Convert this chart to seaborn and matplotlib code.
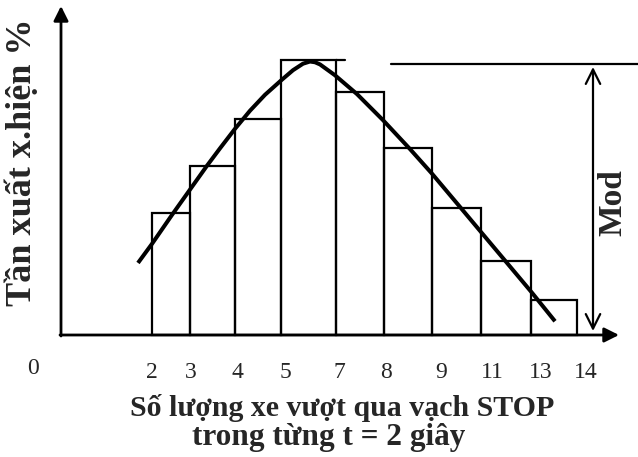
import matplotlib
matplotlib.use("Agg")
import matplotlib.pyplot as plt
import seaborn as sns

# Class boundaries along the horizontal axis and their printed values
bin_edges = [152, 190, 235, 281, 336, 384, 432, 481, 531, 577]
edge_labels = ["2", "3", "4", "5", "7", "8", "9", "11", "13", "14"]
label_shift = [0, 1, 2, 4, 3, 2, 9, 11, 10, 9]
# Relative frequency of each class (%)
freq_pct = [8.4, 11.7, 14.9, 19.0, 16.8, 12.9, 8.8, 5.1, 2.4]

# Hand-drawn smooth frequency curve
curve_x = [138, 152, 172, 190, 207, 220, 235, 250, 265, 282, 293, 303, 310, 315,
           320, 335, 357, 383, 410, 432, 460, 480, 507, 532, 555]
curve_y = [4.98, 6.3, 8.3, 10.05, 11.7, 12.9, 14.25, 15.5, 16.6, 17.65, 18.3, 18.75, 18.9, 18.85,
           18.7, 17.95, 16.65, 14.85, 12.85, 11.15, 8.85, 7.2, 4.98, 2.92, 0.95]

W, H = 638, 457
BASE_ROW = 335          # pixel row of the horizontal axis
PX_PER_PCT = 14.47      # vertical scale


def row(r):
    """Convert a pixel row to the vertical data coordinate."""
    return (BASE_ROW - r) / PX_PER_PCT


sns.set_style("white")
plt.rcParams["font.family"] = ["Liberation Serif", "DejaVu Serif"]

fig = plt.figure(figsize=(W / 100, H / 100), dpi=100)
ax = fig.add_axes([0, 0, 1, 1])

centers = [(a + b) / 2 for a, b in zip(bin_edges[:-1], bin_edges[1:])]
sns.histplot(x=centers, weights=freq_pct, bins=bin_edges, fill=False,
             color="black", linewidth=1.6, ax=ax)

# extended top edge of the modal class
ax.plot([bin_edges[4], bin_edges[4] + 9], [freq_pct[3]] * 2, color="black", lw=1.6)

# frequency curve
sns.lineplot(x=curve_x, y=curve_y, sort=False, color="black", lw=2.9, ax=ax,
             solid_capstyle="butt", solid_joinstyle="round")

# coordinate axes with arrow heads
ax.annotate("", xy=(61, row(6)), xytext=(61, row(BASE_ROW + 1)),
            arrowprops=dict(arrowstyle="-|>", lw=2, color="black",
                            mutation_scale=22, shrinkA=0, shrinkB=0))
ax.annotate("", xy=(619, 0), xytext=(60, 0),
            arrowprops=dict(arrowstyle="-|>", lw=2, color="black",
                            mutation_scale=22, shrinkA=0, shrinkB=0))

# mode level and its span
ax.plot([391, W], [row(64)] * 2, color="black", lw=1.6)
ax.annotate("", xy=(593, row(67)), xytext=(593, row(331)),
            arrowprops=dict(arrowstyle="<->", lw=1.6, color="black",
                            mutation_scale=26, shrinkA=0, shrinkB=0))
ax.text(613, row(203), "Mod", rotation=90, ha="center", va="center",
        fontsize=24, fontweight="bold")

# class boundary labels
ax.text(33, row(368), "0", ha="center", va="center", fontsize=17)
for xe, dx, lab in zip(bin_edges, label_shift, edge_labels):
    ax.text(xe + dx, row(372), lab, ha="center", va="center", fontsize=17)

# axis titles
ax.text(342, row(416), "Số lượng xe vượt qua vạch STOP", ha="center", va="baseline",
        fontsize=21.5, fontweight="bold")
ax.text(329, row(445), "trong từng t = 2 giây", ha="center", va="baseline",
        fontsize=22.5, fontweight="bold")
ax.text(22, row(162), "Tần xuất x.hiện %", rotation=90, ha="center", va="center",
        fontsize=26, fontweight="bold")

ax.set_xlim(0, W)
ax.set_ylim(row(H), row(0))
ax.set_axis_off()

fig.savefig("out.png", dpi=100, facecolor="white")
